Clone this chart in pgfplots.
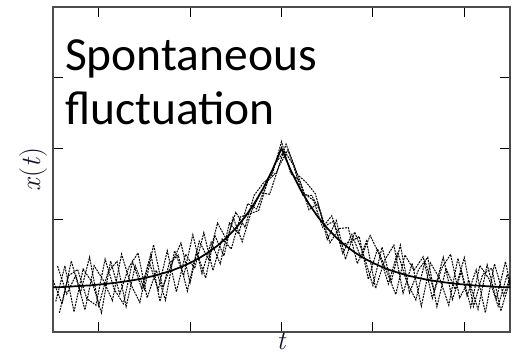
\documentclass[border=0pt]{standalone}
\usepackage{pgfplots}
\pgfplotsset{compat=1.18}
\usepackage{fontspec}
\newfontfamily\calib{Carlito}
\definecolor{labcol}{rgb}{0.07,0.08,0.16}
\begin{document}
\begin{tikzpicture}
\begin{axis}[
  scale only axis,
  width=457pt, height=325pt,
  xmin=0, xmax=5, ymin=-0.3, ymax=2.0,
  xtick={0.5,1.5,2.5,3.5,4.5},
  ytick={0.5,1,1.5},
  xticklabels={}, yticklabels={},
  tick align=inside,
  major tick length=10pt,
  tick style={line width=0.9pt, black},
  axis line style={line width=1.2pt, black!70},
  xlabel={\textit{t}}, ylabel={\textit{x}(\textit{t})},
  xlabel style={at={(axis description cs:0.5,0)}, anchor=north, inner sep=0pt, yshift=-0.5pt, text=labcol, font=\fontsize{27}{30}\selectfont},
  ylabel style={at={(axis description cs:0,0.5)}, rotate=0, anchor=south, yshift=5pt, inner sep=0pt, text=labcol, font=\fontsize{28}{30}\selectfont},
  clip=true,
  trace/.style={black, line width=1.0pt, dash pattern=on 1.9pt off 1.0pt},
]
% noisy traces
\addplot[trace] coordinates {
(0.0,0.066)(0.1,-0.102)(0.2,0.202)(0.3,-0.024)(0.4,0.230)(0.5,-0.114)(0.6,0.122)(0.7,0.200)(0.8,-0.121)(0.9,0.169)
(1.0,0.002)(1.1,0.317)(1.2,0.015)(1.3,0.185)(1.4,0.330)(1.5,0.049)(1.6,0.343)(1.7,0.216)(1.8,0.471)(1.9,0.352)
(2.0,0.547)(2.1,0.441)(2.2,0.667)(2.3,0.753)(2.4,0.816)(2.5,1.048)(2.6,0.822)(2.7,0.771)(2.8,0.565)(2.9,0.609)
(3.0,0.355)(3.1,0.488)(3.2,0.215)(3.3,0.408)(3.4,0.243)(3.5,0.029)(3.6,0.300)(3.7,0.055)(3.8,0.315)(3.9,-0.023)
(4.0,0.142)(4.1,0.229)(4.2,-0.121)(4.3,0.150)(4.4,0.002)(4.5,0.226)(4.6,-0.120)(4.7,0.106)(4.8,0.152)(4.9,-0.152)(5.0,0.066)};
\addplot[trace] coordinates {
(0.03,-0.084)(0.13,0.168)(0.23,-0.158)(0.33,0.146)(0.43,0.050)(0.53,-0.164)(0.63,0.202)(0.73,-0.030)(0.83,0.159)(0.93,0.259)
(1.03,-0.058)(1.13,0.137)(1.23,-0.075)(1.33,0.275)(1.43,0.100)(1.53,0.389)(1.63,0.113)(1.73,0.336)(1.83,0.183)(1.93,0.472)
(2.03,0.395)(2.13,0.609)(2.23,0.571)(2.33,0.735)(2.43,0.888)(2.53,0.982)(2.63,0.882)(2.73,0.669)(2.83,0.667)(2.93,0.545)
(3.03,0.331)(3.13,0.432)(3.23,0.439)(3.33,0.184)(3.43,0.343)(3.53,0.009)(3.63,0.210)(3.73,0.315)(3.83,-0.025)(3.93,0.187)
(4.03,-0.118)(4.13,0.189)(4.23,0.079)(4.33,-0.110)(4.43,0.222)(4.53,-0.044)(4.63,0.140)(4.73,-0.164)(4.83,0.182)(4.93,-0.042)(5.03,0.136)};
\addplot[trace] coordinates {
(0.05,0.166)(0.15,-0.032)(0.25,0.102)(0.35,-0.144)(0.45,0.170)(0.55,0.066)(0.65,-0.078)(0.75,0.250)(0.85,0.039)(0.95,-0.091)
(1.05,0.202)(1.15,-0.003)(1.25,0.275)(1.35,-0.015)(1.45,0.250)(1.55,0.149)(1.65,0.403)(1.75,0.136)(1.85,0.359)(1.95,0.288)
(2.05,0.515)(2.15,0.537)(2.25,0.559)(2.35,0.771)(2.45,0.834)(2.55,1.030)(2.65,0.858)(2.75,0.681)(2.85,0.631)(2.95,0.441)
(3.05,0.523)(3.15,0.320)(3.25,0.335)(3.35,0.376)(3.45,0.073)(3.55,0.289)(3.65,0.130)(3.75,-0.035)(3.85,0.245)(3.95,0.137)
(4.05,0.232)(4.15,-0.061)(4.25,0.149)(4.35,0.250)(4.45,-0.058)(4.55,0.066)(4.65,-0.140)(4.75,0.176)(4.85,-0.068)(4.95,0.198)(5.05,-0.104)};
\addplot[trace] coordinates {
(0.07,-0.164)(0.17,0.098)(0.27,0.142)(0.37,-0.064)(0.47,-0.110)(0.57,0.216)(0.67,0.002)(0.77,-0.100)(0.87,0.199)(0.97,0.009)
(1.07,0.252)(1.17,-0.083)(1.27,0.185)(1.37,0.245)(1.47,-0.010)(1.57,0.269)(1.67,0.083)(1.77,0.384)(1.87,0.239)(1.97,0.512)
(2.07,0.339)(2.17,0.553)(2.27,0.685)(2.37,0.675)(2.47,0.870)(2.57,0.988)(2.67,0.816)(2.77,0.759)(2.87,0.679)(2.97,0.449)
(3.07,0.483)(3.17,0.256)(3.27,0.391)(3.37,0.224)(3.47,0.383)(3.57,0.249)(3.67,0.040)(3.77,0.265)(3.87,0.055)(3.97,-0.073)
(4.07,0.202)(4.17,-0.011)(4.27,0.229)(4.37,-0.070)(4.47,0.132)(4.57,-0.124)(4.67,0.170)(4.77,0.076)(4.87,-0.118)(4.97,0.108)(5.07,-0.164)};
% mean curve
\addplot[black, line width=1.7pt] coordinates {
(0.0,0.016)(0.1,0.018)(0.2,0.022)(0.3,0.026)(0.4,0.030)(0.5,0.036)(0.6,0.042)(0.7,0.050)(0.8,0.059)(0.9,0.069)
(1.0,0.082)(1.1,0.097)(1.2,0.115)(1.3,0.135)(1.4,0.160)(1.5,0.189)(1.6,0.223)(1.7,0.264)(1.8,0.311)(1.9,0.368)
(2.0,0.435)(2.1,0.513)(2.2,0.607)(2.3,0.717)(2.4,0.846)(2.5,1.000)(2.6,0.846)(2.7,0.717)(2.8,0.607)(2.9,0.513)
(3.0,0.435)(3.1,0.368)(3.2,0.311)(3.3,0.264)(3.4,0.223)(3.5,0.189)(3.6,0.160)(3.7,0.135)(3.8,0.115)(3.9,0.097)
(4.0,0.082)(4.1,0.069)(4.2,0.059)(4.3,0.050)(4.4,0.042)(4.5,0.036)(4.6,0.030)(4.7,0.026)(4.8,0.022)(4.9,0.018)(5.0,0.016)};
\node[anchor=base west, inner sep=0pt, font=\calib\fontsize{47.5}{54}\selectfont] at (rel axis cs:0.026,0.806) {Spontaneous};
\node[anchor=base west, inner sep=0pt, font=\calib\fontsize{47.5}{54}\selectfont] at (rel axis cs:0.026,0.640) {fluctuation};
\end{axis}
\path[use as bounding box] ([xshift=-53pt,yshift=-22pt]current axis.south west) rectangle ([xshift=17pt,yshift=7pt]current axis.north east);
\end{tikzpicture}
\end{document}
